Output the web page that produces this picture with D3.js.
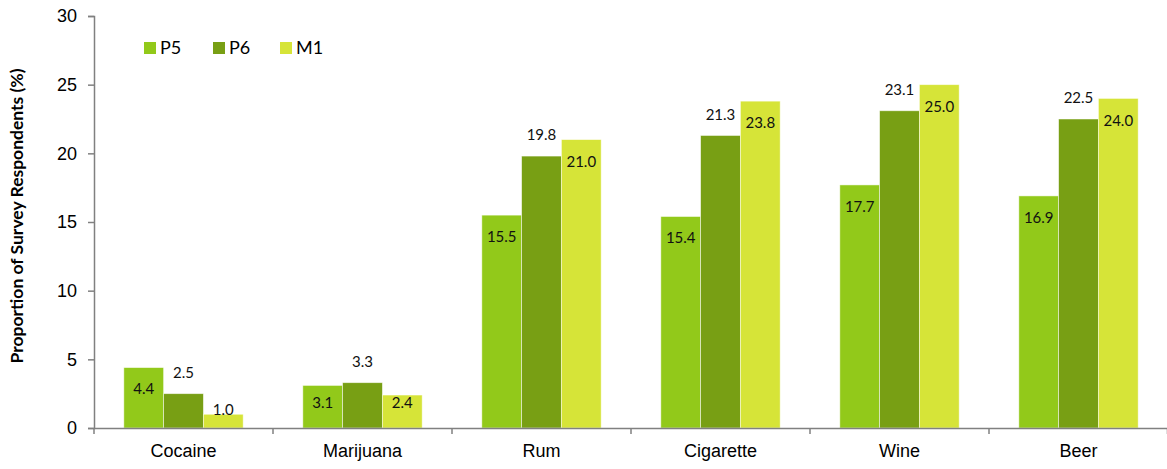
<!DOCTYPE html>
<html>
<head>
<meta charset="utf-8">
<script src="https://cdn.jsdelivr.net/npm/d3@7"></script>
<style>
  html, body { margin: 0; padding: 0; background: #fff; }
  svg { display: block; font-family: "Gill Sans", "Gill Sans MT", Lato, "Open Sans", sans-serif; }
</style>
</head>
<body>
<svg id="chart" width="1167" height="469"></svg>
<script>
const categories = ["Cocaine", "Marijuana", "Rum", "Cigarette", "Wine", "Beer"];
const seriesNames = ["P5", "P6", "M1"];
const p5 = [4.4, 3.1, 15.5, 15.4, 17.7, 16.9];
const p6 = [2.5, 3.3, 19.8, 21.3, 23.1, 22.5];
const m1 = [1.0, 2.4, 21.0, 23.8, 25.0, 24.0];
const yTicks = [0, 5, 10, 15, 20, 25, 30];
const colors = ["#92C91A", "#789F14", "#D6E438"];

const seriesValues = [p5, p6, m1];

const svg = d3.select("#chart");
const x0 = d3.scaleBand().domain(categories).range([94, 1168]).paddingInner(0).paddingOuter(0);
const x1 = d3.scaleBand().domain(seriesNames).range([0, x0.bandwidth()]).paddingInner(0).paddingOuter(0.75);
const y = d3.scaleLinear().domain([0, 30]).range([428, 16]);

// label vertical offsets (px, label centre relative to bar top)
function labelDy(si, ci) {
  if (si === 1) return -21;
  if (si === 0) return ci === 1 ? 17.5 : 21.5;
  if (ci === 0) return -5;
  if (ci === 1) return 8;
  return 22;
}

// bars
const groups = svg.append("g").selectAll("g")
  .data(categories)
  .join("g")
  .attr("transform", d => `translate(${x0(d)},0)`);

groups.selectAll("rect")
  .data((c, ci) => seriesNames.map((s, si) => ({ s, si, ci, v: seriesValues[si][ci] })))
  .join("rect")
  .attr("x", d => x1(d.s))
  .attr("width", x1.bandwidth())
  .attr("y", d => y(d.v))
  .attr("height", d => y(0) - y(d.v))
  .attr("fill", d => colors[d.si])
  .attr("stroke", "rgba(255,255,255,0.6)")
  .attr("stroke-width", 0.8);

groups.selectAll("text")
  .data((c, ci) => seriesNames.map((s, si) => ({ s, si, ci, v: seriesValues[si][ci] })))
  .join("text")
  .attr("x", d => x1(d.s) + x1.bandwidth() / 2)
  .attr("y", d => y(d.v) + labelDy(d.si, d.ci))
  .attr("dy", "0.35em")
  .attr("text-anchor", "middle")
  .attr("font-size", 15)
  .attr("fill", "#111")
  .text(d => d.v.toFixed(1));

// y axis
const yAxis = d3.axisLeft(y).tickValues(yTicks).tickSize(6).tickPadding(11).tickFormat(d3.format("d"));
const gy = svg.append("g").attr("transform", "translate(94,0)").call(yAxis);
gy.select(".domain").attr("stroke", "#808080").attr("stroke-width", 1.5);
gy.selectAll(".tick line").attr("stroke", "#808080").attr("stroke-width", 1.5);
gy.selectAll(".tick text").attr("font-size", 18).attr("fill", "#000").style("font-family", "inherit");

// x axis
const xAxis = d3.axisBottom(x0).tickSize(0).tickPadding(16);
const gx = svg.append("g").attr("transform", "translate(0,428)").call(xAxis);
gx.select(".domain").attr("stroke", "#808080").attr("stroke-width", 1.5);
gx.selectAll(".tick text").attr("font-size", 18).attr("fill", "#000").style("font-family", "inherit");
gx.selectAll(".boundary")
  .data(categories)
  .join("line")
  .attr("x1", d => x0(d)).attr("x2", d => x0(d))
  .attr("y1", 0).attr("y2", 6)
  .attr("stroke", "#808080").attr("stroke-width", 1.5);
gx.append("line")
  .attr("x1", x0.range()[1] - 0.5).attr("x2", x0.range()[1] - 0.5)
  .attr("y1", 0).attr("y2", 6)
  .attr("stroke", "#808080").attr("stroke-width", 1.5);

// y title
svg.append("text")
  .attr("transform", "translate(23,216) rotate(-90)")
  .attr("text-anchor", "middle")
  .attr("font-size", 17.5)
  .attr("font-weight", "bold")
  .attr("fill", "#000")
  .text("Proportion of Survey Respondents (%)");

// legend
const legendX = [144, 213, 280];
const leg = svg.append("g").selectAll("g")
  .data(seriesNames)
  .join("g")
  .attr("transform", (d, i) => `translate(${legendX[i]},42)`);
leg.append("rect").attr("width", 12).attr("height", 12).attr("fill", (d, i) => colors[i]);
leg.append("text").attr("x", 16).attr("y", 6).attr("dy", "0.36em")
  .attr("font-size", 18).attr("fill", "#000").text(d => d);
</script>
</body>
</html>
